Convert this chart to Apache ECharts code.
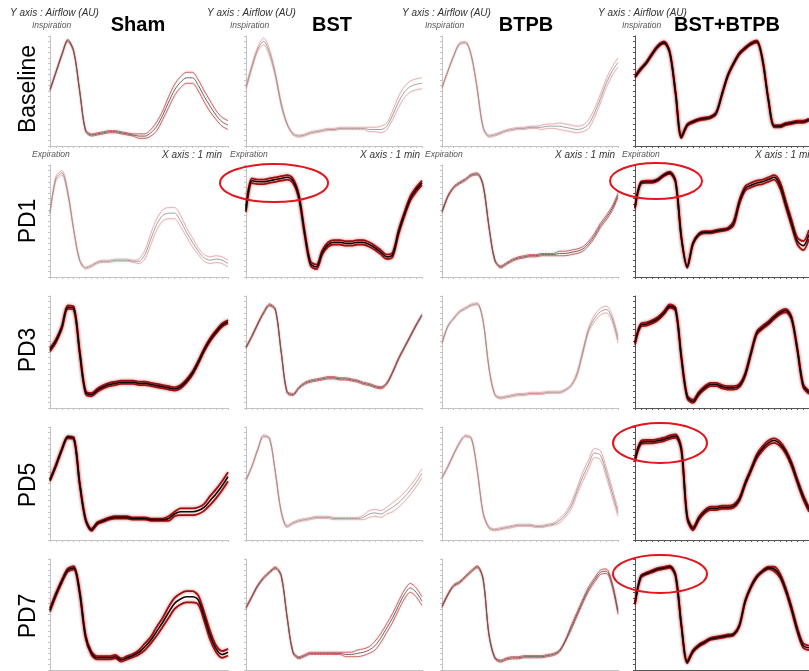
<!DOCTYPE html>
<html>
<head>
<meta charset="utf-8">
<script src="https://cdn.jsdelivr.net/npm/echarts@6/dist/echarts.min.js"></script>
<style>
  html, body { margin: 0; padding: 0; background: #fff; }
  #chart { width: 809px; height: 671px; }
</style>
</head>
<body>
<div id="chart"></div>
<script>
// column / row names
const groups = ['Sham', 'BST', 'BTPB', 'BST+BTPB'];
const days = ['Baseline', 'PD1', 'PD3', 'PD5', 'PD7'];

// mean airflow traces (0 = expiration floor, 100 = inspiration top), 31 samples over 1 min
const shamBaseline = [51,67,83,96,86,50,14,10,11,12,13,13,12,11,10,9,9,12,18,28,40,51,58,62,62,55,45,36,28,22,19];
const bstBaseline  = [53,72,88,95,85,65,38,20,11,9,10,12,13,14,15,15,16,16,16,16,16,15,15,15,18,28,40,49,54,56,57];
const btpbBaseline = [53,68,82,93,94,82,52,17,9,10,12,14,15,16,16,17,17,17,18,18,18,17,16,15,16,20,30,43,57,68,76];
const comboBaseline = [63,70,76,84,91,94,85,48,8,19,22,24,25,26,30,47,64,75,84,89,93,95,78,42,18,18,20,21,22,22,24];

const shamPD1  = [57,88,93,75,42,15,8,10,13,14,14,15,15,15,14,14,20,34,47,55,57,57,50,40,31,23,17,15,16,15,12];
const bstPD1   = [60,86,85,85,86,87,88,89,86,72,39,12,9,22,29,31,31,30,30,31,31,29,26,22,18,20,40,56,70,78,84];
const btpbPD1  = [58,72,80,84,87,91,92,82,45,15,9,12,15,17,18,19,19,20,20,20,21,21,22,23,25,30,37,46,53,61,73];
const comboPD1 = [62,84,85,85,87,91,93,85,35,9,30,38,40,40,41,42,43,48,67,79,82,84,85,87,89,82,65,48,32,28,38];

const shamPD3  = [52,60,72,90,89,50,14,12,16,19,21,22,23,23,23,22,22,21,20,19,18,17,19,24,31,41,52,61,68,74,77];
const bstPD3   = [54,64,75,85,92,88,50,14,12,18,22,24,25,26,27,27,26,26,25,24,22,21,19,18,22,32,44,54,64,74,83];
const btpbPD3  = [58,73,80,86,89,92,93,78,36,12,9,10,11,12,12,13,13,13,14,14,14,16,20,30,50,70,80,86,88,80,61];
const comboPD3 = [58,74,75,77,80,85,91,88,45,10,6,13,18,21,21,19,18,18,20,30,49,67,72,76,81,85,87,80,52,20,14];

const shamPD5  = [53,66,80,91,90,50,18,9,15,17,19,20,20,20,19,19,19,18,18,18,19,23,25,25,25,26,29,35,41,48,56];
const bstPD5   = [53,65,80,92,90,60,25,12,15,17,18,19,20,20,20,19,19,19,19,19,20,23,24,23,26,29,33,38,44,51,59];
const btpbPD5  = [55,65,76,86,92,90,62,24,11,9,10,11,12,13,13,13,12,12,13,14,17,22,30,43,56,67,77,75,60,42,24];
const comboPD5 = [71,86,87,87,88,89,91,92,80,20,10,19,25,28,28,29,29,30,36,50,62,74,81,86,88,85,78,67,52,38,27];

const shamPD7  = [54,68,80,90,92,70,30,15,11,11,11,12,9,11,13,16,21,27,35,43,52,60,64,66,66,63,48,31,19,14,16];
const bstPD7   = [56,66,76,83,88,92,85,48,16,11,13,15,15,15,15,15,15,14,14,15,16,18,22,29,38,47,58,68,74,70,62];
const btpbPD7  = [57,68,76,79,84,89,93,82,32,11,8,10,11,11,12,12,12,12,13,14,17,26,38,50,62,73,81,88,89,77,52];
const comboPD7 = [60,84,87,89,91,92,93,85,40,7,17,22,25,28,29,30,31,32,40,62,75,84,89,92,91,85,72,55,36,22,20];

// half-width of the error band around each mean
const shamBaselineSd = [1,1,1,1,1,1,1,1,1,1,1,1,1,1,1,2,2,3,4,4,5,5,5,5,5,5,5,5,4,4,4];
const bstBaselineSd  = [2,2,2,3,3,2,2,1,1,1,1,1,1,1,1,1,1,1,1,1,1,2,2,3,3,4,5,5,5,5,5];
const btpbBaselineSd = [1,1,1,1,1,1,1,1,1,1,1,1,1,1,1,1,1,2,2,2,3,3,3,3,3,4,4,4,4,4,4];
const comboBaselineSd = [1,1,1,1,1,1,1,1,1,1,1,1,1,1,1,1,1,1,1,1,1,1,1,1,1,1,1,1,1,1,1];

const shamPD1Sd  = [1,2,2,2,1,1,1,1,1,1,1,1,1,1,1,2,4,5,5,5,5,5,5,4,4,3,3,3,3,3,3];
const bstPD1Sd   = [2,2,2,2,2,2,2,2,2,2,2,2,2,2,2,2,2,2,2,2,2,2,2,2,2,2,2,2,2,2,2];
const btpbPD1Sd  = [1,1,1,1,1,1,1,1,1,1,1,1,1,1,1,1,1,1,1,1,2,2,2,2,2,2,2,2,2,2,2];
const comboPD1Sd = [1,1,1,1,1,1,1,1,1,1,1,1,1,1,1,1,1,2,2,2,2,2,2,2,2,3,3,3,3,4,4];

const shamPD3Sd  = [1.5,1.5,1.5,1.5,1.5,1.5,1.5,1.5,1.5,1.5,1.5,1.5,1.5,1.5,1.5,1.5,1.5,1.5,1.5,1.5,1.5,1.5,1.5,1.5,1.5,1.5,1.5,1.5,1.5,1.5,1.5];
const bstPD3Sd   = [1,1,1,1,1,1,1,1,1,1,1,1,1,1,1,1,1,1,1,1,1,1,1,1,1,1,1,1,1,1,1];
const btpbPD3Sd  = [1,1,1,1,1,1,1,1,1,1,1,1,1,1,1,1,1,1,1,1,1,1,1,2,2,2,3,3,3,3,3];
const comboPD3Sd = [1.5,1.5,1.5,1.5,1.5,1.5,1.5,1.5,1.5,1.5,1.5,1.5,1.5,1.5,1.5,1.5,1.5,1.5,1.5,1.5,1.5,1.5,1.5,1.5,1.5,1.5,1.5,1.5,1.5,1.5,1.5];

const shamPD5Sd  = [1,1,1,1,1,1,1,1,1,1,1,1,1,1,1,1,1,1,1,1,2,2,3,3,3,3,3,4,4,4,4];
const bstPD5Sd   = [1,1,1,1,1,1,1,1,1,1,1,1,1,1,1,1,1,1,1,1,2,3,3,3,3,4,4,4,4,4,4];
const btpbPD5Sd  = [1,1,1,1,1,1,1,1,1,1,1,1,1,1,1,1,1,1,1,1,2,2,3,3,4,4,4,4,4,4,3];
const comboPD5Sd = [1.5,1.5,1.5,1.5,1.5,1.5,1.5,1.5,1.5,1.5,1.5,1.5,1.5,1.5,1.5,1.5,1.5,1.5,1.5,1.5,1.5,2,2,2,2,2,2,2,2,2,2];

const shamPD7Sd  = [1.5,1.5,1.5,1.5,1.5,1.5,1.5,1.5,1.5,1.5,1.5,1.5,1.5,1.5,1.5,2,3,3,4,4,5,5,5,5,5,4,4,4,3,3,3];
const bstPD7Sd   = [1,1,1,1,1,1,1,1,1,1,1,1,1,1,1,1,1,2,2,3,3,3,4,4,4,4,4,4,4,4,4];
const btpbPD7Sd  = [1,1,1,1,1,1,1,1,1,1,1,1,1,1,1,1,1,1,1,1,1,1,2,2,2,2,2,2,2,2,2];
const comboPD7Sd = [1,1,1,1,1,1,1,1,1,1,1,1,1,1,1,1,1,1,1,1,1,1,1,1,2,2,2,2,2,2,2];

// rows x columns
const panels = [
  [[shamBaseline, shamBaselineSd], [bstBaseline, bstBaselineSd], [btpbBaseline, btpbBaselineSd], [comboBaseline, comboBaselineSd]],
  [[shamPD1, shamPD1Sd], [bstPD1, bstPD1Sd], [btpbPD1, btpbPD1Sd], [comboPD1, comboPD1Sd]],
  [[shamPD3, shamPD3Sd], [bstPD3, bstPD3Sd], [btpbPD3, btpbPD3Sd], [comboPD3, comboPD3Sd]],
  [[shamPD5, shamPD5Sd], [bstPD5, bstPD5Sd], [btpbPD5, btpbPD5Sd], [comboPD5, comboPD5Sd]],
  [[shamPD7, shamPD7Sd], [bstPD7, bstPD7Sd], [btpbPD7, btpbPD7Sd], [comboPD7, comboPD7Sd]]
];

// how heavy each trace looks: pale / light / dark
const look = [
  ['light', 'pale', 'pale', 'dark'],
  ['pale', 'dark', 'light', 'dark'],
  ['dark', 'light', 'pale', 'dark'],
  ['dark', 'pale', 'pale', 'dark'],
  ['dark', 'light', 'light', 'dark']
];
const looks = {
  pale:  { band: '#e2a3a3', mean: '#8a8a8a', bw: 0.8, mw: 0.8, glow: 'rgba(220,120,120,0.35)', blur: 2 },
  light: { band: '#c85a5a', mean: '#555', bw: 0.9, mw: 0.9, glow: 'rgba(170,40,40,0.4)', blur: 2 },
  dark:  { band: '#a00d0d', mean: '#140404', bw: 1.8, mw: 1.6, glow: 'rgba(160,0,0,0.6)', blur: 3 }
};

const colLeft = [50, 246, 442, 635];
const colWidth = [178, 176, 176, 176];
const rowTop = [36, 165, 296, 427, 559];
const rowHeight = [110, 112, 112, 113, 111];

const grid = [], xAxis = [], yAxis = [], series = [];
panels.forEach((row, r) => {
  row.forEach(([mean, sd], c) => {
    const k = grid.length;
    const axisColor = c === 3 ? '#555' : '#c4c4c4';
    grid.push({ left: colLeft[c], top: rowTop[r], width: colWidth[c], height: rowHeight[r] });
    xAxis.push({
      type: 'value', gridIndex: k, min: 0, max: 30, interval: 1,
      axisLine: { show: true, lineStyle: { color: axisColor, width: 1 } },
      axisTick: { show: true, length: 2, lineStyle: { color: axisColor } },
      axisLabel: { show: false }, splitLine: { show: false }
    });
    yAxis.push({
      type: 'value', gridIndex: k, min: 0, max: 100, interval: 5,
      axisLine: { show: true, lineStyle: { color: axisColor, width: 1 } },
      axisTick: { show: true, length: 2, lineStyle: { color: axisColor } },
      axisLabel: { show: false }, splitLine: { show: false }
    });
    const st = looks[look[r][c]];
    const mk = (vals, color, w, glow) => ({
      type: 'line', xAxisIndex: k, yAxisIndex: k, showSymbol: false, smooth: 0.3,
      silent: true, animation: false,
      data: vals.map((v, i) => [i, v]),
      lineStyle: { color: color, width: w, shadowColor: glow ? st.glow : 'transparent', shadowBlur: glow ? st.blur : 0 }
    });
    series.push(mk(mean.map((v, i) => v + sd[i]), st.band, st.bw, true));
    series.push(mk(mean.map((v, i) => v - sd[i]), st.band, st.bw, true));
    series.push(mk(mean, st.mean, st.mw, false));
  });
});

const graphic = [];
const titleX = [138, 332, 526, 727];
groups.forEach((g, c) => {
  graphic.push({ type: 'text', x: titleX[c], y: 25, style: { text: g, font: 'bold 20px "Liberation Sans", Arial, sans-serif', fill: '#000', textAlign: 'center', textVerticalAlign: 'middle' } });
});
const yTagX = [10, 207, 402, 598];
const subX = [32, 230, 425, 622];
const minRight = [222, 420, 615, 815];
yTagX.forEach((x, c) => {
  graphic.push({ type: 'text', x: x, y: 13, style: { text: 'Y axis : Airflow (AU)', font: 'italic 10px "Liberation Sans", Arial, sans-serif', fill: '#333', textVerticalAlign: 'middle' } });
  graphic.push({ type: 'text', x: subX[c], y: 26, style: { text: 'Inspiration', font: 'italic 8.5px "Liberation Sans", Arial, sans-serif', fill: '#555', textVerticalAlign: 'middle' } });
  graphic.push({ type: 'text', x: subX[c], y: 155, style: { text: 'Expiration', font: 'italic 8.5px "Liberation Sans", Arial, sans-serif', fill: '#555', textVerticalAlign: 'middle' } });
  graphic.push({ type: 'text', x: minRight[c], y: 155, style: { text: 'X axis : 1 min', font: 'italic 10px "Liberation Sans", Arial, sans-serif', fill: '#333', textAlign: 'right', textVerticalAlign: 'middle' } });
});
const dayY = [89, 221, 350, 485, 616];
days.forEach((d, r) => {
  graphic.push({ type: 'text', x: 29, y: dayY[r], rotation: Math.PI / 2, style: { text: d, font: '23px "Liberation Sans", Arial, sans-serif', fill: '#000', textAlign: 'center', textVerticalAlign: 'middle' } });
});
// red highlight rings
[[274, 183, 54, 19], [656, 181, 46, 18], [660, 443, 47, 20], [660, 574, 47, 19]].forEach(([cx, cy, rx, ry]) => {
  graphic.push({ type: 'ellipse', z: 100, shape: { cx, cy, rx, ry }, style: { fill: null, stroke: '#e3161d', lineWidth: 2 } });
});

const myChart = echarts.init(document.getElementById('chart'));
myChart.setOption({ animation: false, grid, xAxis, yAxis, series, graphic });
</script>
</body>
</html>
